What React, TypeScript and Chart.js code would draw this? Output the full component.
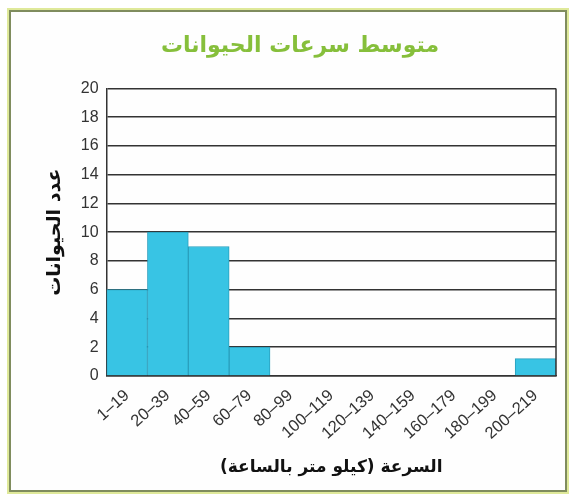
import React, { useEffect, useRef } from "react";
import { Chart, registerables } from "chart.js";

Chart.register(...registerables);

const chartTitle = "متوسط سرعات الحيوانات";
const xAxisTitle = "السرعة (كيلو متر بالساعة)";
const yAxisTitle = "عدد الحيوانات";
const categories = [
  "1–19", "20–39", "40–59", "60–79", "80–99", "100–119",
  "120–139", "140–159", "160–179", "180–199", "200–219",
];
const counts = [6, 10, 9, 2, 0, 0, 0, 0, 0, 0, 1.2];

const rightBorderPlugin = {
  id: "rightBorder",
  afterDatasetsDraw(chart: any) {
    const { ctx, chartArea } = chart;
    ctx.save();
    ctx.strokeStyle = "#333";
    ctx.lineWidth = 1.5;
    ctx.beginPath();
    ctx.moveTo(chartArea.right, chartArea.top);
    ctx.lineTo(chartArea.right, chartArea.bottom);
    ctx.stroke();
    ctx.restore();
  },
};

export default function App() {
  const ref = useRef<HTMLCanvasElement>(null);
  useEffect(() => {
    if (!ref.current) return;
    const chart = new Chart(ref.current, {
      type: "bar",
      data: {
        labels: categories,
        datasets: [
          {
            data: counts,
            backgroundColor: "#38c4e4",
            borderColor: "#2a9fbd",
            borderWidth: 1,
            barPercentage: 1,
            categoryPercentage: 1,
          },
        ],
      },
      plugins: [rightBorderPlugin],
      options: {
        animation: false,
        responsive: false,
        layout: { padding: { left: 44, right: 17, top: 6, bottom: 22 } },
        plugins: {
          legend: { display: false },
          tooltip: { enabled: false },
          title: {
            display: true,
            text: chartTitle,
            color: "#86bf3b",
            font: { family: "DejaVu Sans", size: 22, weight: "bold" },
            padding: { top: 27, bottom: 29 },
          },
        },
        scales: {
          x: {
            grid: { display: false },
            border: { display: true, color: "#333", width: 1.5 },
            ticks: {
              color: "#333",
              font: { family: "Liberation Sans", size: 16.5 },
              minRotation: 42,
              maxRotation: 42,
              padding: 2,
              autoSkip: false,
            },
            title: {
              display: true,
              text: xAxisTitle,
              color: "#111",
              font: { family: "DejaVu Sans", size: 17, weight: "bold" },
              padding: { top: 12, bottom: 0 },
            },
          },
          y: {
            min: 0,
            max: 20,
            grid: { color: "#333", lineWidth: 1.5, drawTicks: false },
            border: { display: true, color: "#333", width: 1.5 },
            ticks: {
              stepSize: 2,
              color: "#333",
              font: { family: "Liberation Sans", size: 16 },
              padding: 8,
            },
            title: {
              display: true,
              text: yAxisTitle,
              color: "#111",
              font: { family: "DejaVu Sans", size: 19, weight: "bold" },
              padding: { top: 0, bottom: 6 },
            },
          },
        },
      },
    });
    return () => chart.destroy();
  }, []);

  return (
    <div style={{ position: "fixed", left: 0, top: 0, width: 573, height: 500, background: "#fff" }}>
      <div
        style={{
          position: "absolute",
          left: 9,
          top: 10,
          width: 554,
          height: 478,
          border: "2px solid #7f8c5e",
          boxShadow: "0 0 0 2px #dfe99a",
          background: "#fefefe",
        }}
      />
      <canvas ref={ref} width={573} height={500} style={{ position: "absolute", left: 0, top: 0 }} />
    </div>
  );
}
